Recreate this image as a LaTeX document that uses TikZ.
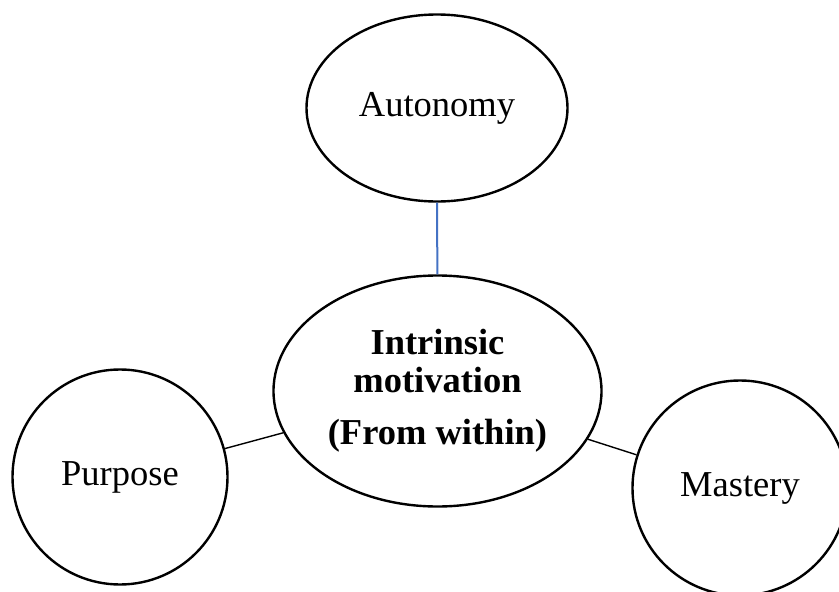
\documentclass[tikz,border=0pt]{standalone}
\usepackage{fontspec}
\setmainfont{Liberation Serif}
\usetikzlibrary{shapes.geometric}
\definecolor{linkblue}{RGB}{68,114,196}
\tikzset{
  bubble/.style={draw=black, line width=2.4pt, ellipse, inner sep=0pt, fill=white,
    font=\fontsize{36.5}{38}\selectfont, align=center},
  ring/.style={draw=black, line width=2.4pt, circle, inner sep=0pt, fill=white,
    minimum size=215pt, font=\fontsize{36.5}{38}\selectfont},
  link/.style={draw=black, line width=1.4pt},
  bluelink/.style={draw=linkblue, line width=2pt}
}
\begin{document}
\begin{tikzpicture}[x=1pt,y=-1pt]
\useasboundingbox (0,0) rectangle (839,592);
\clip (0,0) rectangle (839,592);
\fill[white] (0,0) rectangle (839,592);
\node[bubble, minimum width=261pt, minimum height=187pt] (auto) at (437,108) {Autonomy};
\node[bubble, minimum width=328pt, minimum height=231pt, font=\fontsize{36.5}{38}\selectfont\bfseries] (core) at (437.5,391) {Intrinsic\\motivation\\[14pt](From within)};
\node[ring] (purp) at (120,477) {Purpose};
\node[ring] (mast) at (740,488) {Mastery};
\draw[bluelink] (auto) -- (core);
\draw[link] (purp) -- (core);
\draw[link] (mast) -- (core);
\end{tikzpicture}
\end{document}
